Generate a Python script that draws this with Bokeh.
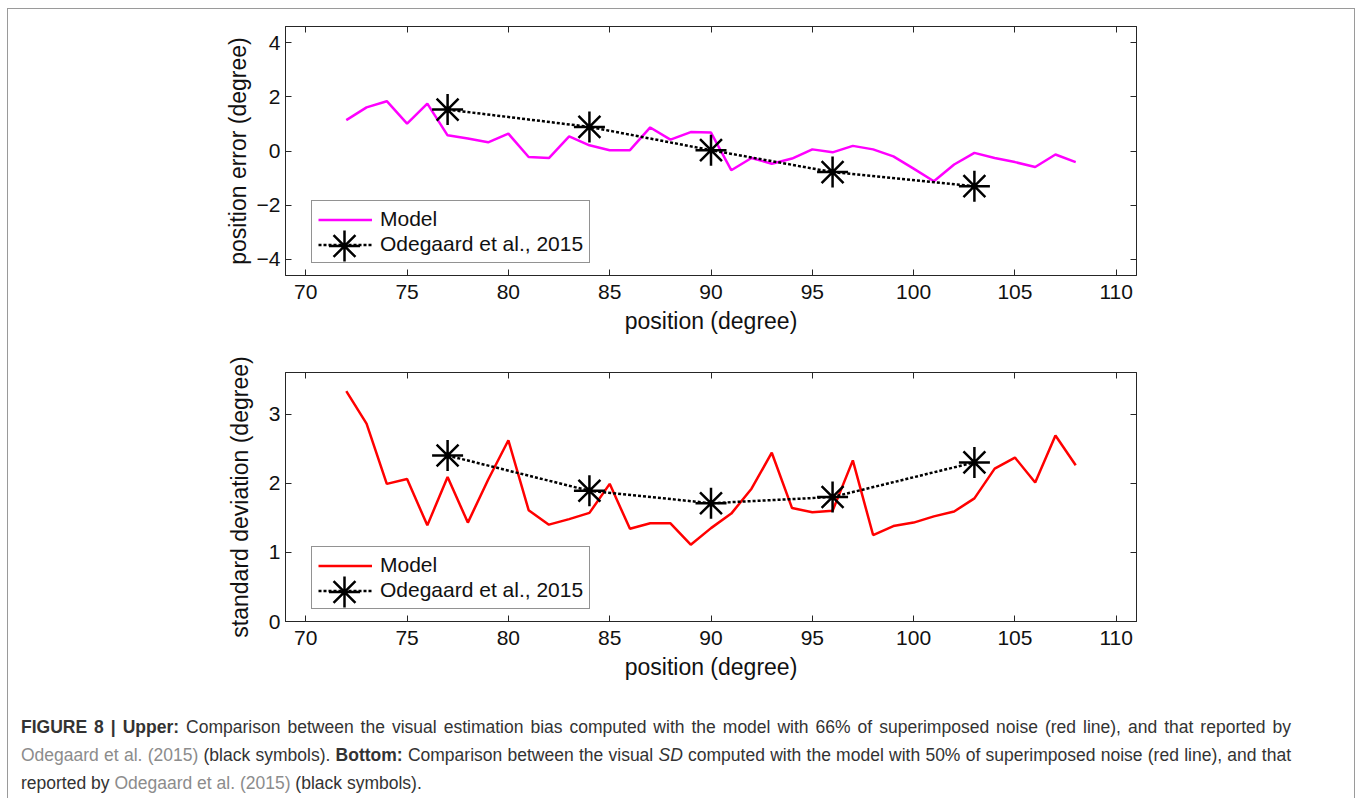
from bokeh.plotting import figure
from bokeh.models import (Range1d, FixedTicker, LinearAxis, Legend, LegendItem, Div,
                          CustomLabelingPolicy)
from bokeh.layouts import column
from bokeh.embed import file_html
from bokeh.resources import INLINE

# ---------------- data ----------------
positions = list(range(72, 109))
bias_model = [1.14, 1.61, 1.84, 1.01, 1.75, 0.58, 0.46, 0.32, 0.64, -0.22,
              -0.26, 0.54, 0.21, 0.03, 0.03, 0.87, 0.42, 0.70, 0.68, -0.71,
              -0.26, -0.47, -0.28, 0.06, -0.05, 0.19, 0.06, -0.20, -0.65, -1.12,
              -0.50, -0.07, -0.26, -0.41, -0.59, -0.13, -0.41]
sd_model = [3.33, 2.86, 1.99, 2.06, 1.39, 2.09, 1.43, 2.05, 2.62, 1.61,
            1.40, 1.48, 1.57, 1.99, 1.34, 1.42, 1.42, 1.11, 1.35, 1.56,
            1.92, 2.44, 1.64, 1.58, 1.60, 2.33, 1.25, 1.38, 1.43, 1.52,
            1.59, 1.78, 2.21, 2.37, 2.01, 2.69, 2.26]
ode_pos = [77, 84, 90, 96, 103]
ode_bias = [1.53, 0.89, 0.03, -0.78, -1.30]
ode_sd = [2.40, 1.89, 1.71, 1.80, 2.30]
x_ticks = [70, 75, 80, 85, 90, 95, 100, 105, 110]
bias_ticks = [-4, -2, 0, 2, 4]
sd_ticks = [0, 1, 2, 3]

FONT = "Liberation Sans"
AX = "#262626"
X_RANGE = (69, 111)
FRAME_W = 851
FRAME_H = 249
STAR_SIZE = 31

# legend geometry (screen px)
LEG_X, LEG_Y = 26, 12
LEG_PAD, LEG_ROW, LEG_SP, LEG_GW = 6, 23, 1, 54

HIDE_LABELS = CustomLabelingPolicy(code="""
for (const i of indices)
    indices.unset(i)
return indices
""")


def box_axis(ticks):
    return LinearAxis(ticker=FixedTicker(ticks=ticks), major_label_text_font_size="1px",
                      major_label_policy=HIDE_LABELS,
                      major_label_standoff=0, major_tick_in=6, major_tick_out=0,
                      minor_tick_line_color=None, axis_line_color=AX,
                      major_tick_line_color=AX)


def style_axes(p, xt, yt, ylab_standoff):
    for ax in p.xaxis + p.yaxis:
        ax.axis_line_color = AX
        ax.major_tick_line_color = AX
        ax.major_tick_in = 6
        ax.major_tick_out = 0
        ax.minor_tick_line_color = None
        ax.major_label_text_font = FONT
        ax.major_label_text_font_size = "21px"
        ax.major_label_text_color = "#111111"
        ax.axis_label_text_font = FONT
        ax.axis_label_text_font_size = "23px"
        ax.axis_label_text_font_style = "normal"
        ax.axis_label_text_color = "#111111"
    p.xaxis.ticker = FixedTicker(ticks=xt)
    p.yaxis.ticker = FixedTicker(ticks=yt)
    p.xaxis.major_label_standoff = 9
    p.xaxis.axis_label_standoff = 6
    p.yaxis.major_label_standoff = 5
    p.yaxis.axis_label_standoff = ylab_standoff
    p.add_layout(box_axis(xt), "above")
    p.add_layout(box_axis(yt), "right")
    p.xgrid.visible = False
    p.ygrid.visible = False
    p.outline_line_color = AX


def make_panel(model_y, model_color, ode_y, yr, yt, ylabel, top_border, bottom_border, ylab_standoff):
    p = figure(width=1346, height=top_border + FRAME_H + bottom_border,
               x_range=Range1d(*X_RANGE), y_range=Range1d(*yr),
               output_backend="svg", toolbar_location=None,
               min_border_left=277, min_border_right=218,
               min_border_top=top_border, min_border_bottom=bottom_border,
               x_axis_label="position (degree)", y_axis_label=ylabel)
    p.background_fill_color = "white"
    p.border_fill_color = "white"
    r_model = p.line(positions, model_y, line_color=model_color, line_width=2.5)
    r_dash = p.line(ode_pos, ode_y, line_color="black", line_width=2.5, line_dash="3 2")
    p.scatter(ode_pos, ode_y, marker="asterisk", size=STAR_SIZE,
              line_color="black", line_width=2.5)
    style_axes(p, x_ticks, yt, ylab_standoff)
    legend = Legend(items=[LegendItem(label="Model", renderers=[r_model]),
                           LegendItem(label="Odegaard et al., 2015", renderers=[r_dash])],
                    location=(LEG_X, LEG_Y), orientation="vertical",
                    label_text_font=FONT, label_text_font_size="21px",
                    label_text_color="#111111",
                    glyph_width=LEG_GW, glyph_height=LEG_ROW, label_height=LEG_ROW,
                    label_standoff=8, padding=LEG_PAD, spacing=LEG_SP, margin=0,
                    border_line_color=AX, border_line_width=1.2,
                    background_fill_alpha=0)
    p.add_layout(legend, "center")
    # full-size legend key marker, placed at the legend's second glyph slot
    xs = (X_RANGE[1] - X_RANGE[0]) / FRAME_W
    ys = (yr[1] - yr[0]) / FRAME_H
    kx = X_RANGE[0] + (LEG_X + LEG_PAD + LEG_GW / 2) * xs
    ky = yr[0] + (LEG_Y + LEG_PAD + LEG_ROW / 2) * ys
    p.scatter(x=[kx], y=[ky], marker="asterisk", size=STAR_SIZE, line_color="black",
              line_width=2.5)
    return p


p1 = make_panel(bias_model, "#ff00ff", ode_bias, (-4.6, 4.6), bias_ticks,
                "position error (degree)", 17, 70, 3)
p2 = make_panel(sd_model, "#ff0000", ode_sd, (0, 3.6), sd_ticks,
                "standard deviation (degree)", 27, 69, 13)

link = "#8c8c8c"
just = "width:1270px; text-align:justify; text-align-last:justify; white-space:nowrap;"
caption_html = (
    '<div style="font-family: \'Liberation Sans\', Arial, sans-serif; font-size:17.5px; '
    'color:#333333; line-height:28px; padding-left:8px; padding-top:18px;">'
    f'<div style="{just}"><b>FIGURE 8 | Upper:</b> Comparison between the visual estimation bias computed with the model '
    'with 66% of superimposed noise (red line), and that reported by</div>'
    f'<div style="{just}"><span style="color:{link}">Odegaard et al. (2015)</span> (black symbols). <b>Bottom:</b> '
    'Comparison between the visual <i>SD</i> computed with the model with 50% of superimposed noise '
    '(red line), and that</div>'
    f'<div style="white-space:nowrap;">reported by <span style="color:{link}">Odegaard et al. (2015)</span> (black symbols).</div>'
    '</div>'
)
caption = Div(text=caption_html, width=1346, height=120)

layout = column(p1, p2, caption, spacing=0, margin=(8, 0, 0, 7), width=1348,
                styles={"border": "1px solid #9a9a9a", "background-color": "white"})

open("out.html", "w").write(file_html(layout, INLINE))
